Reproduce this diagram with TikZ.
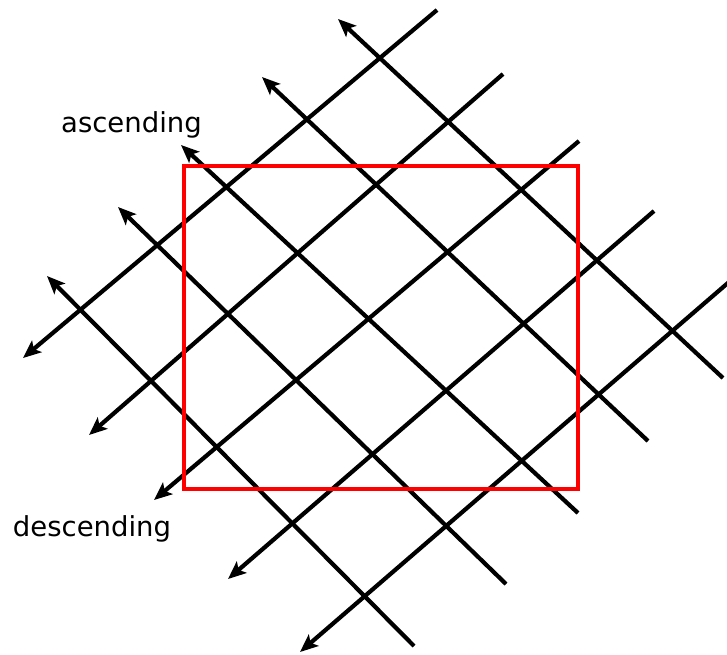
\documentclass[tikz,border=0pt]{standalone}
\usepackage{fontspec}
\setmainfont{DejaVu Sans}
\usetikzlibrary{arrows.meta}

\begin{document}
\begin{tikzpicture}[
  x=1pt, y=-1pt,
  ray/.style={line width=4.2pt, -{Stealth[length=18pt, width=15pt, inset=4pt]}},
  window/.style={draw=red, line width=4.2pt},
  tag/.style={font=\fontsize{27.5}{32}\selectfont, anchor=base, inner sep=0pt}
]
\useasboundingbox (0,0) rectangle (727,654);

% descending rays (arrow at lower left)
\coordinate (d1s) at (437,10);  \coordinate (d1e) at (23,358);
\coordinate (d2s) at (503,74);  \coordinate (d2e) at (89,435);
\coordinate (d3s) at (579,141); \coordinate (d3e) at (154,500);
\coordinate (d4s) at (654,211); \coordinate (d4e) at (228,579);
\coordinate (d5s) at (729,282); \coordinate (d5e) at (300,652);

% ascending rays (arrow at upper left)
\coordinate (a1s) at (723,378); \coordinate (a1e) at (338,19);
\coordinate (a2s) at (648,441); \coordinate (a2e) at (262,77);
\coordinate (a3s) at (578,513); \coordinate (a3e) at (181,145);
\coordinate (a4s) at (506,584); \coordinate (a4e) at (118,207);
\coordinate (a5s) at (414,646); \coordinate (a5e) at (47,276);

\draw[ray] (d1s) -- (d1e);
\draw[ray] (d2s) -- (d2e);
\draw[ray] (d3s) -- (d3e);
\draw[ray] (d4s) -- (d4e);
\draw[ray] (d5s) -- (d5e);

\draw[ray] (a1s) -- (a1e);
\draw[ray] (a2s) -- (a2e);
\draw[ray] (a3s) -- (a3e);
\draw[ray] (a4s) -- (a4e);
\draw[ray] (a5s) -- (a5e);

\draw[window] (184,166) rectangle (578,489);

\node[tag] (asc) at (131.5,132) {ascending};
\node[tag] (desc) at (92,536) {descending};
\end{tikzpicture}
\end{document}
